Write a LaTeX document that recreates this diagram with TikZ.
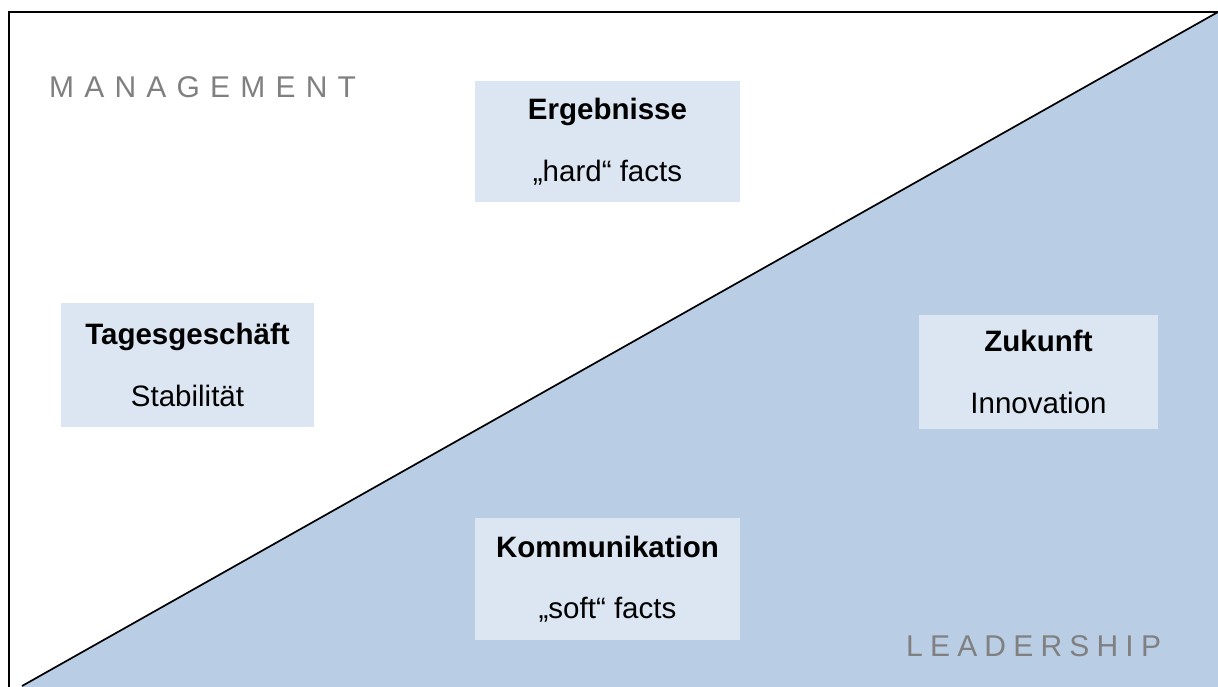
\documentclass[tikz,border=0pt]{standalone}
\usepackage{fontspec}
\setmainfont{Liberation Sans}
\definecolor{leadblue}{HTML}{B9CDE5}
\definecolor{boxblue}{HTML}{DCE6F2}
\definecolor{labelgray}{HTML}{808080}

\begin{document}
\begin{tikzpicture}[
    x=1pt, y=-1pt,
    field/.style={rectangle, fill=boxblue, align=center, inner sep=0pt,
        font=\fontsize{29.5}{35.5}\selectfont},
    corner/.style={text=labelgray, anchor=base west, inner sep=0pt,
        font=\fontsize{30}{36}\selectfont\addfontfeature{LetterSpace=#1}}
]
\useasboundingbox (0,0) rectangle (1218,686);

% Frame and diagonal
\coordinate (TL) at (9,12);
\coordinate (BL) at (9,690);
\coordinate (TR) at (1220,12);
\coordinate (DB) at (22,686);
\coordinate (DT) at (1218,12);
\fill[leadblue] (DB) -- (DT) -- (1220,12) -- (1220,690) -- (22,690) -- cycle;
\draw[line width=1.7pt] (TR) -- (TL) -- (BL);
\draw[line width=1.7pt] (DB) -- (DT);

% Fields
\node[field, minimum width=265pt, minimum height=121pt] (ergebnisse) at (607.5,141.5)
    {\textbf{Ergebnisse}\\[26pt]„hard“ facts};
\node[field, minimum width=253pt, minimum height=124pt] (tagesgeschaeft) at (187.5,365)
    {\textbf{Tagesgeschäft}\\[26pt]Stabilität};
\node[field, minimum width=239pt, minimum height=114pt] (zukunft) at (1038.5,372)
    {\textbf{Zukunft}\\[26pt]Innovation};
\node[field, minimum width=265pt, minimum height=122pt] (kommunikation) at (607.5,579)
    {\textbf{Kommunikation}\\[26pt]„soft“ facts};

% Labels
\node[corner=34] (management) at (49,97) {MANAGEMENT};
\node[corner=24] (leadership) at (906,656) {LEADERSHIP};
\end{tikzpicture}
\end{document}
